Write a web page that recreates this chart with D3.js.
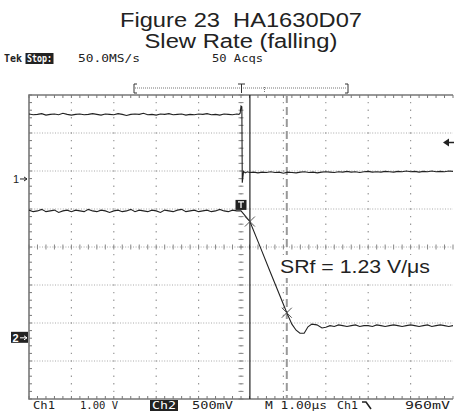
<!DOCTYPE html>
<html>
<head>
<meta charset="utf-8">
<script src="https://cdn.jsdelivr.net/npm/d3@7/dist/d3.min.js"></script>
<style>
  html, body { margin: 0; padding: 0; background: #fff; }
  svg { display: block; }
</style>
</head>
<body>
<script>
    // ---- text ----
    var titleLines = ["Figure 23  HA1630D07", "Slew Rate (falling)"];
    var sampleRate = "50.0MS/s";
    var acqs = "50 Acqs";
    var ch1Label = ["Ch1", "1.00 V"];
    var ch2Label = ["Ch2", "500mV"];
    var timeLabel = "M 1.00\u00b5s";
    var trigLabel = ["Ch1", "960mV"];
    var resultText = "SRf = 1.23 V/\u03bcs";

    // ---- scope settings ----
    var timeDiv = [-5, 5];       // us, 1.00us/div
    var vertDiv = [-4, 4];       // divisions
    var ch1VoltsDiv = 1.0;
    var ch2VoltsDiv = 0.5;
    var ch1Ground = 1.79;        // divisions above centre
    var ch2Ground = -2.39;
    var trigLevel = 0.96;        // V on ch1
    var cursorTimes = [0.21, 1.08];
    var crossPoints = [[0.21, 1.53], [1.08, 0.33]]; // ch2 (us, V)

    // ---- traces (V), sampled every 0.1 us ----
    var sampleStep = 0.1;
    var ch1High = [1.71,1.69,1.70,1.72,1.68,1.70,1.71,1.69,1.73,1.70,
                   1.68,1.70,1.71,1.69,1.70,1.72,1.70,1.68,1.71,1.70,
                   1.69,1.72,1.70,1.67,1.70,1.71,1.70,1.73,1.69,1.70,
                   1.68,1.71,1.70,1.72,1.69,1.70,1.71,1.68,1.70,1.69,
                   1.71,1.70,1.72,1.69,1.70,1.68,1.71,1.70,1.69,1.71]; // from -5.0us
    var ch1Edge = [[-0.05,1.70],[-0.02,1.73],[0.0,1.92],[0.02,1.90],[0.03,-0.10],
                   [0.06,0.20],[0.10,0.16],[0.15,0.19]];
    var ch1Low = [0.17,0.18,0.16,0.18,0.17,0.19,0.17,0.18,0.15,0.18,
                  0.17,0.16,0.18,0.19,0.17,0.18,0.16,0.18,0.19,0.18,
                  0.17,0.19,0.18,0.20,0.18,0.19,0.17,0.19,0.20,0.18,
                  0.19,0.18,0.20,0.19,0.18,0.20,0.19,0.21,0.19,0.20,
                  0.18,0.20,0.19,0.21,0.19,0.20,0.19,0.21,0.20];      // from 0.2us

    var ch2High = [1.68,1.66,1.67,1.69,1.66,1.67,1.68,1.65,1.67,1.68,
                   1.66,1.68,1.67,1.66,1.69,1.67,1.66,1.68,1.67,1.65,
                   1.67,1.68,1.66,1.67,1.69,1.66,1.68,1.67,1.66,1.68,
                   1.67,1.65,1.68,1.67,1.66,1.68,1.69,1.66,1.67,1.68,
                   1.66,1.67,1.68,1.66,1.67,1.69,1.67,1.66,1.68,1.67]; // from -5.0us
    var ch2Fall = [[0.0,1.67],[0.09,1.61],[0.21,1.53],[0.45,1.20],[0.68,0.88],
                   [0.92,0.55],[1.08,0.33],[1.20,0.18],[1.30,0.10],[1.39,0.06],
                   [1.49,0.06],[1.58,0.145],[1.67,0.18],[1.79,0.17],[1.91,0.13],[2.0,0.14]];
    var ch2Low = [0.16,0.15,0.17,0.16,0.15,0.16,0.17,0.15,0.16,0.16,
                  0.15,0.17,0.16,0.15,0.16,0.17,0.16,0.15,0.16,0.17,
                  0.16,0.15,0.16,0.17,0.15,0.16,0.17,0.16,0.15,0.16];  // from 2.1us

    var W = 454, H = 412;
    var pL = 29, pR = 453, pT = 95, pB = 399;

    var svg = d3.select("body").append("svg")
        .attr("width", W).attr("height", H);

    var x = d3.scaleLinear().domain(timeDiv).range([pL, pR]);
    var y = d3.scaleLinear().domain(vertDiv).range([pB, pT]);

    var sans = "'Liberation Sans', Arial, sans-serif";
    var mono = "'DejaVu Sans Mono', monospace";

    // title
    svg.selectAll("text.title")
        .data(titleLines)
        .enter().append("text")
        .attr("class", "title")
        .attr("x", 241)
        .attr("y", function(d, i){ return i ? 48 : 27; })
        .attr("text-anchor", "middle")
        .attr("textLength", function(d, i){ return i ? 193 : 242; })
        .attr("lengthAdjust", "spacingAndGlyphs")
        .style("font-family", sans)
        .style("font-size", "20px")
        .style("fill", "#222")
        .style("white-space", "pre")
        .text(function(d){ return d; });

    // header line
    var hdr = svg.append("g").style("font-family", mono).style("font-size", "11px").style("fill", "#222");
    hdr.append("text").attr("x", 4).attr("y", 62).attr("textLength", 18)
        .attr("lengthAdjust", "spacingAndGlyphs").style("font-weight", "bold").text("Tek");
    hdr.append("rect").attr("x", 25.5).attr("y", 53).attr("width", 28).attr("height", 11).attr("fill", "#222");
    hdr.append("text").attr("x", 27).attr("y", 62).attr("textLength", 25)
        .attr("lengthAdjust", "spacingAndGlyphs").style("font-weight", "bold").style("fill", "#fff").text("Stop:");
    hdr.append("text").attr("x", 78).attr("y", 62).attr("textLength", 62)
        .attr("lengthAdjust", "spacingAndGlyphs").text(sampleRate);
    hdr.append("text").attr("x", 212).attr("y", 62).attr("textLength", 51)
        .attr("lengthAdjust", "spacingAndGlyphs").text(acqs);

    // record bar
    var bar = svg.append("g").attr("stroke", "#333").attr("fill", "none");
    bar.append("line").attr("x1", 135).attr("x2", 347).attr("y1", 88).attr("y2", 88)
        .attr("stroke", "#777").attr("stroke-dasharray", "1,1");
    bar.append("path").attr("d", "M137,84H134V93H137");
    bar.append("path").attr("d", "M345,84H348V93H345");
    bar.append("path").attr("d", "M238,84H245M241.5,84V93");
    bar.append("line").attr("x1", 264.5).attr("x2", 264.5).attr("y1", 87).attr("y2", 93)
        .attr("stroke", "#777").attr("stroke-dasharray", "1,1");

    // grid
    var grid = svg.append("g");
    var xMajor = x.ticks(10), yMajor = y.ticks(8);
    var xMinor = d3.range(timeDiv[0], timeDiv[1] + 0.001, 0.2);
    var yMinor = d3.range(vertDiv[0], vertDiv[1] + 0.001, 0.2);

    grid.selectAll("line.h")
        .data(yMajor.filter(function(d){ return d > vertDiv[0] && d < vertDiv[1]; }))
        .enter().append("line")
        .attr("x1", pL).attr("x2", pR)
        .attr("y1", function(d){ return y(d); })
        .attr("y2", function(d){ return y(d); })
        .attr("stroke", "#aaa")
        .attr("stroke-dasharray", "1,1.6");

    grid.selectAll("line.v")
        .data(xMajor.filter(function(d){ return d > timeDiv[0] && d < timeDiv[1]; }))
        .enter().append("line")
        .attr("y1", pT).attr("y2", pB)
        .attr("x1", function(d){ return x(d); })
        .attr("x2", function(d){ return x(d); })
        .attr("stroke", "#999")
        .attr("stroke-width", 1.2)
        .attr("stroke-dasharray", "1.4,6.2")
        .attr("stroke-dashoffset", 0.7);

    // centre crosshair ticks
    grid.selectAll("line.cx")
        .data(xMinor)
        .enter().append("line")
        .attr("x1", function(d){ return x(d); })
        .attr("x2", function(d){ return x(d); })
        .attr("y1", y(0) - 2.5).attr("y2", y(0) + 2.5)
        .attr("stroke", "#888");
    grid.selectAll("line.cy")
        .data(yMinor)
        .enter().append("line")
        .attr("y1", function(d){ return y(d); })
        .attr("y2", function(d){ return y(d); })
        .attr("x1", x(0) - 2.5).attr("x2", x(0) + 2.5)
        .attr("stroke", "#888");

    // frame edge ticks
    grid.selectAll("line.tt")
        .data(xMinor)
        .enter().append("line")
        .attr("x1", function(d){ return x(d); })
        .attr("x2", function(d){ return x(d); })
        .attr("y1", pT).attr("y2", pT + 3)
        .attr("stroke", "#777");
    grid.selectAll("line.bt")
        .data(xMinor)
        .enter().append("line")
        .attr("x1", function(d){ return x(d); })
        .attr("x2", function(d){ return x(d); })
        .attr("y1", pB).attr("y2", pB - 3)
        .attr("stroke", "#777");
    grid.selectAll("line.lt")
        .data(yMinor)
        .enter().append("line")
        .attr("y1", function(d){ return y(d); })
        .attr("y2", function(d){ return y(d); })
        .attr("x1", pL).attr("x2", pL + 3)
        .attr("stroke", "#777");

    // frame
    svg.append("path")
        .attr("d", "M" + pR + "," + pT + "H" + pL + "V" + pB + "H" + pR)
        .attr("fill", "none")
        .attr("stroke", "#777")
        .attr("stroke-width", 1.6);

    // cursors
    svg.append("line")
        .attr("x1", x(cursorTimes[1])).attr("x2", x(cursorTimes[1]))
        .attr("y1", pT).attr("y2", pB)
        .attr("stroke", "#999").attr("stroke-width", 2)
        .attr("stroke-dasharray", "8,4");
    svg.append("line")
        .attr("x1", x(cursorTimes[0])).attr("x2", x(cursorTimes[0]))
        .attr("y1", pT).attr("y2", pB)
        .attr("stroke", "#222").attr("stroke-width", 1.2);

    // traces
    function series(high, edge, low, lowStart) {
        var pts = high.map(function(v, i){ return [timeDiv[0] + i * sampleStep, v]; });
        pts = pts.concat(edge);
        return pts.concat(low.map(function(v, i){ return [lowStart + i * sampleStep, v]; }));
    }
    var ch1Pts = series(ch1High, ch1Edge, ch1Low, 0.2);
    var ch2Pts = series(ch2High, ch2Fall, ch2Low, 2.1);

    function traceLine(vdiv, ground) {
        return d3.line()
            .x(function(d){ return x(d[0]); })
            .y(function(d){ return y(d[1] / vdiv + ground); });
    }

    svg.append("path").datum(ch1Pts)
        .attr("fill", "none").attr("stroke", "#222").attr("stroke-width", 1.1)
        .attr("d", traceLine(ch1VoltsDiv, ch1Ground));
    svg.append("path").datum(ch2Pts)
        .attr("fill", "none").attr("stroke", "#222").attr("stroke-width", 1.1)
        .attr("d", traceLine(ch2VoltsDiv, ch2Ground));

    // cursor crosses
    svg.selectAll("path.cross")
        .data(crossPoints)
        .enter().append("path")
        .attr("d", function(d){
            var cx = x(d[0]), cy = y(d[1] / ch2VoltsDiv + ch2Ground), s = 5;
            return "M" + (cx - s) + "," + (cy - s) + "L" + (cx + s) + "," + (cy + s) +
                   "M" + (cx - s) + "," + (cy + s) + "L" + (cx + s) + "," + (cy - s);
        })
        .attr("stroke", "#555").attr("stroke-width", 1);

    // trigger position marker
    var tx = x(0), ty = y(ch2High[ch2High.length - 1] / ch2VoltsDiv + ch2Ground);
    svg.append("rect").attr("x", tx - 5.5).attr("y", ty - 11).attr("width", 11).attr("height", 10).attr("fill", "#222");
    svg.append("path").attr("d", "M" + (tx - 3) + "," + (ty - 9) + "H" + (tx + 3) + "M" + tx + "," + (ty - 9) + "V" + (ty - 3))
        .attr("stroke", "#fff").attr("stroke-width", 1.3);

    // channel ground markers
    var g1 = y(ch1Ground), g2 = y(ch2Ground);
    svg.append("text").attr("x", 13).attr("y", g1 + 4).style("font-family", sans).style("font-size", "11px")
        .style("fill", "#222").text("1");
    svg.append("path").attr("d", "M20," + g1 + "H27M24," + (g1 - 2) + "L27," + g1 + "L24," + (g1 + 2))
        .attr("stroke", "#222").attr("fill", "none");
    svg.append("rect").attr("x", 11).attr("y", g2 - 6).attr("width", 17).attr("height", 11).attr("fill", "#222");
    svg.append("text").attr("x", 12.5).attr("y", g2 + 4).style("font-family", sans).style("font-size", "11px")
        .style("font-weight", "bold").style("fill", "#fff").text("2");
    svg.append("path").attr("d", "M20," + g2 + "H27M24," + (g2 - 2) + "L27," + g2 + "L24," + (g2 + 2))
        .attr("stroke", "#fff").attr("fill", "none");

    // trigger level arrow
    var tl = y(trigLevel / ch1VoltsDiv + ch1Ground);
    svg.append("path").attr("d", "M443," + tl + "L449," + (tl - 4) + "V" + (tl + 4) + "Z")
        .attr("fill", "#222");
    svg.append("line").attr("x1", 447).attr("x2", 454).attr("y1", tl).attr("y2", tl)
        .attr("stroke", "#222").attr("stroke-width", 1.5);

    // measurement result
    svg.append("rect").attr("x", 277).attr("y", 255).attr("width", 156).attr("height", 23).attr("fill", "#fff");
    svg.append("text").attr("x", 280).attr("y", 273)
        .attr("textLength", 150).attr("lengthAdjust", "spacingAndGlyphs")
        .style("font-family", sans).style("font-size", "19px").style("fill", "#222")
        .text(resultText);

    // bottom readout
    var ft = svg.append("g").style("font-family", mono).style("font-size", "11px").style("fill", "#222");
    function readout(txt, px, len, col) {
        ft.append("text").attr("x", px).attr("y", 409).attr("textLength", len)
            .attr("lengthAdjust", "spacingAndGlyphs").style("fill", col || "#222").text(txt);
    }
    readout(ch1Label[0], 33, 22);
    readout(ch1Label[1], 80, 38);
    ft.append("rect").attr("x", 150).attr("y", 400).attr("width", 28).attr("height", 11).attr("fill", "#222");
    readout(ch2Label[0], 152, 24, "#fff");
    readout(ch2Label[1], 192, 41);
    readout(timeLabel, 265, 62);
    readout(trigLabel[0], 337, 21);
    svg.append("path").attr("d", "M362,402H366L371,409")
        .attr("stroke", "#222").attr("stroke-width", 1.6).attr("fill", "none");
    readout(trigLabel[1], 405, 45);
</script>
</body>
</html>
